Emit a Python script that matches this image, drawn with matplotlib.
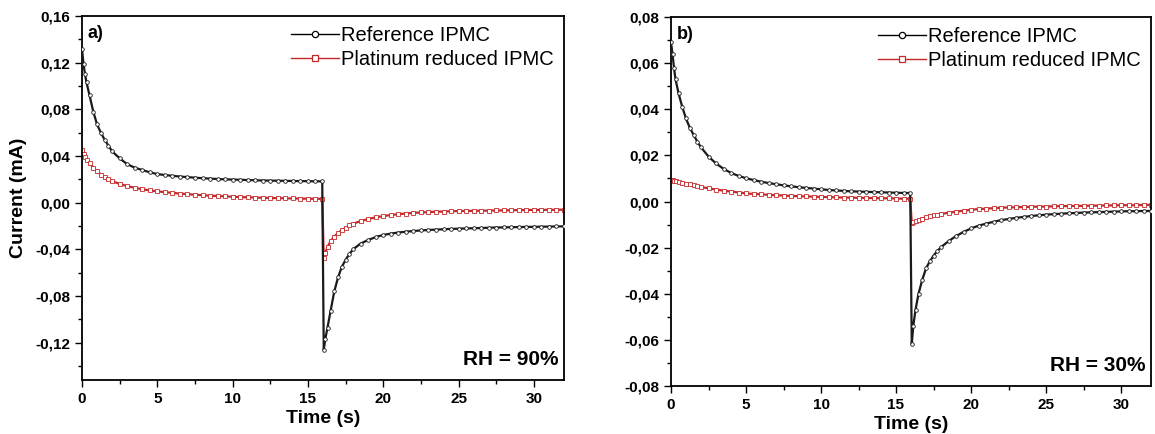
import matplotlib
matplotlib.use("Agg")
import matplotlib.pyplot as plt
from matplotlib.lines import Line2D
from matplotlib.ticker import MultipleLocator, FuncFormatter

plt.rcParams["font.family"] = ["Liberation Sans Narrow", "Liberation Sans", "DejaVu Sans"]

# ---- data (time in s, current in mA) ----
t_on = [0, 0.1, 0.2, 0.3, 0.5, 0.75, 1.0, 1.25, 1.5, 1.75, 2.0, 2.5, 3.0, 3.5,
        4.0, 4.5, 5.0, 5.5, 6.0, 6.5, 7.0, 7.5, 8.0, 8.5, 9.0, 9.5, 10.0, 10.5,
        11.0, 11.5, 12.0, 12.5, 13.0, 13.5, 14.0, 14.5, 15.0, 15.5, 15.95]
t_off = [16.05, 16.15, 16.3, 16.5, 16.75, 17.0, 17.25, 17.5, 17.75, 18.0, 18.5,
         19.0, 19.5, 20.0, 20.5, 21.0, 21.5, 22.0, 22.5, 23.0, 23.5, 24.0, 24.5,
         25.0, 25.5, 26.0, 26.5, 27.0, 27.5, 28.0, 28.5, 29.0, 29.5, 30.0, 30.5,
         31.0, 31.5, 32.0]

# panel a) RH = 90%
ref90_on = [0.132, 0.119, 0.110, 0.103, 0.092, 0.078, 0.067, 0.060, 0.054, 0.049,
            0.044, 0.038, 0.033, 0.030, 0.028, 0.026, 0.0245, 0.0237, 0.0230,
            0.0224, 0.0219, 0.0214, 0.0210, 0.0206, 0.0203, 0.0200, 0.0198,
            0.0196, 0.0194, 0.0192, 0.0190, 0.0189, 0.0188, 0.0187, 0.0186,
            0.0185, 0.0184, 0.0183, 0.0183]
ref90_off = [-0.126, -0.117, -0.107, -0.093, -0.076, -0.064, -0.055, -0.049,
             -0.044, -0.040, -0.035, -0.032, -0.0295, -0.0277, -0.0265, -0.0256,
             -0.0249, -0.0243, -0.0238, -0.0234, -0.0231, -0.0228, -0.0225,
             -0.0223, -0.0221, -0.0219, -0.0217, -0.0215, -0.0213, -0.0212,
             -0.0210, -0.0209, -0.0208, -0.0207, -0.0206, -0.0205, -0.0204,
             -0.0203]
pt90_on = [0.045, 0.042, 0.039, 0.037, 0.034, 0.030, 0.027, 0.024, 0.022, 0.020,
           0.0185, 0.0160, 0.0142, 0.0127, 0.0115, 0.0105, 0.0097, 0.0090,
           0.0084, 0.0078, 0.0073, 0.0068, 0.0064, 0.0060, 0.0057, 0.0054,
           0.0051, 0.0048, 0.0046, 0.0044, 0.0042, 0.0040, 0.0039, 0.0037,
           0.0036, 0.0035, 0.0034, 0.0033, 0.0033]
pt90_off = [-0.047, -0.043, -0.038, -0.033, -0.029, -0.026, -0.0235, -0.0215,
            -0.0195, -0.018, -0.0158, -0.0140, -0.0126, -0.0115, -0.0106,
            -0.0099, -0.0093, -0.0088, -0.0084, -0.0081, -0.0078, -0.0076,
            -0.0074, -0.0072, -0.0071, -0.0070, -0.0069, -0.0068, -0.0067,
            -0.0066, -0.0065, -0.0064, -0.0063, -0.0062, -0.0062, -0.0061,
            -0.0061, -0.0060]

# panel b) RH = 30%
ref30_on = [0.069, 0.064, 0.058, 0.053, 0.047, 0.041, 0.036, 0.032, 0.029, 0.026,
            0.0235, 0.0195, 0.0165, 0.0142, 0.0124, 0.0111, 0.0101, 0.0093,
            0.0086, 0.0080, 0.0075, 0.0070, 0.0066, 0.0062, 0.0059, 0.0056,
            0.0053, 0.0050, 0.0048, 0.0046, 0.0044, 0.0043, 0.0042, 0.0041,
            0.0040, 0.0039, 0.0038, 0.0037, 0.0037]
ref30_off = [-0.062, -0.054, -0.047, -0.040, -0.034, -0.029, -0.026, -0.0235,
             -0.0215, -0.0198, -0.0172, -0.0150, -0.0132, -0.0117, -0.0105,
             -0.0096, -0.0088, -0.0081, -0.0076, -0.0071, -0.0067, -0.0063,
             -0.0060, -0.0057, -0.0055, -0.0053, -0.0051, -0.0050, -0.0048,
             -0.0047, -0.0046, -0.0045, -0.0044, -0.0043, -0.0042, -0.0042,
             -0.0041, -0.0041]
pt30_on = [0.0095, 0.0093, 0.0091, 0.0089, 0.0086, 0.0082, 0.0078, 0.0074,
           0.0070, 0.0066, 0.0063, 0.0057, 0.0052, 0.0047, 0.0043, 0.0039,
           0.0035, 0.0033, 0.0031, 0.0029, 0.0027, 0.0026, 0.0024, 0.0023,
           0.0022, 0.0021, 0.0020, 0.0019, 0.0018, 0.0017, 0.0017, 0.0016,
           0.0015, 0.0015, 0.0014, 0.0014, 0.0013, 0.0012, 0.0012]
pt30_off = [-0.0095, -0.0090, -0.0085, -0.0080, -0.0074, -0.0068, -0.0064,
            -0.0060, -0.0057, -0.0054, -0.0049, -0.0044, -0.0040, -0.0036,
            -0.0033, -0.0031, -0.0029, -0.0027, -0.0026, -0.0025, -0.0024,
            -0.0023, -0.0022, -0.0022, -0.0021, -0.0020, -0.0020, -0.0019,
            -0.0019, -0.0018, -0.0018, -0.0017, -0.0017, -0.0016, -0.0016,
            -0.0016, -0.0015, -0.0015]

series_labels = ["Reference IPMC", "Platinum reduced IPMC"]
ref_color = "#1a1a1a"
pt_color = "#c62828"


def fmt_comma(v, pos):
    return f"{v:.2f}".replace(".", ",")


def draw_panel(ax, ref_on, ref_off, pt_on, pt_off, ylim, major, tag, rh):
    t_all = t_on + t_off
    ax.plot(t_all, ref_on + ref_off, color=ref_color, lw=1.6, marker="o",
            ms=2.6, mfc="white", mec=ref_color, mew=0.6, zorder=3)
    ax.plot(t_all, pt_on + pt_off, color=pt_color, lw=1.6, marker="s",
            ms=2.4, mfc="white", mec=pt_color, mew=0.6, zorder=2)

    ax.set_xlim(0, 32)
    ax.set_ylim(*ylim)
    ax.xaxis.set_major_locator(MultipleLocator(5))
    ax.xaxis.set_minor_locator(MultipleLocator(2.5))
    ax.yaxis.set_major_locator(MultipleLocator(major))
    ax.yaxis.set_minor_locator(MultipleLocator(major / 2))
    ax.yaxis.set_major_formatter(FuncFormatter(fmt_comma))
    ax.tick_params(which="both", direction="out", top=False, right=False,
                   width=1.0, labelsize=11)
    ax.tick_params(which="major", length=5)
    ax.tick_params(which="minor", length=3)
    for lab in ax.get_xticklabels() + ax.get_yticklabels():
        lab.set_fontweight("bold")
    for sp in ax.spines.values():
        sp.set_linewidth(1.3)

    ax.set_xlabel("Time (s)", fontsize=14, fontweight="bold", labelpad=3)

    handles = [
        Line2D([], [], color="black", lw=1, marker="o", ms=4.5, mfc="white",
               mec="black", mew=0.9),
        Line2D([], [], color=pt_color, lw=1, marker="s", ms=4.5, mfc="white",
               mec=pt_color, mew=0.9),
    ]
    ax.legend(handles, series_labels, loc="upper right", frameon=False,
              fontsize=14.5, handlelength=2.4, handletextpad=0.1,
              labelspacing=0.25, borderaxespad=0.1)

    ax.text(0.012, 0.975, tag, transform=ax.transAxes, ha="left", va="top",
            fontsize=13, fontweight="bold")
    ax.text(0.988, 0.03, rh, transform=ax.transAxes, ha="right", va="bottom",
            fontsize=15, fontweight="bold")


fig = plt.figure(figsize=(11.55, 4.34), dpi=100)
ax_a = fig.add_axes([82 / 1155, 1 - 380 / 434, 482 / 1155, 364 / 434])
ax_b = fig.add_axes([671 / 1155, 1 - 386 / 434, 480 / 1155, 369 / 434])

draw_panel(ax_a, ref90_on, ref90_off, pt90_on, pt90_off, (-0.152, 0.16), 0.04,
           "a)", "RH = 90%")
draw_panel(ax_b, ref30_on, ref30_off, pt30_on, pt30_off, (-0.08, 0.08), 0.02,
           "b)", "RH = 30%")

ax_a.set_ylabel("Current (mA)", fontsize=14, fontweight="bold", labelpad=6)

fig.savefig("out.png", dpi=100)
